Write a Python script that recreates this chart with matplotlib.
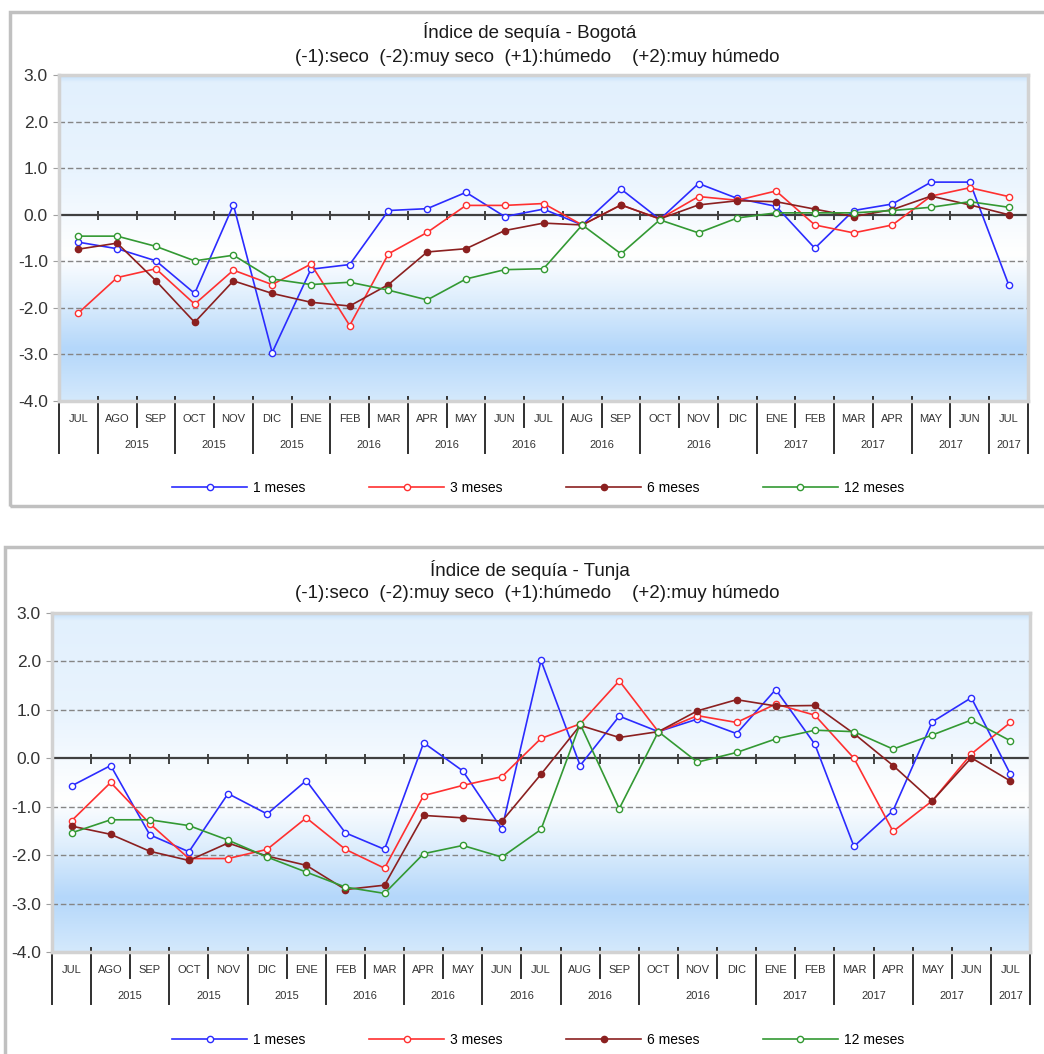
import numpy as np
import matplotlib
matplotlib.use("Agg")
import matplotlib.pyplot as plt
from matplotlib.colors import LinearSegmentedColormap
from matplotlib.patches import Rectangle
import matplotlib.transforms as mtransforms

plt.rcParams['font.family'] = ['Liberation Sans', 'DejaVu Sans']

months = ["JUL", "AGO", "SEP", "OCT", "NOV", "DIC", "ENE", "FEB", "MAR", "APR", "MAY", "JUN", "JUL",
          "AUG", "SEP", "OCT", "NOV", "DIC", "ENE", "FEB", "MAR", "APR", "MAY", "JUN", "JUL"]
year_labels = ["", "2015", "2015", "2015", "2016", "2016", "2016", "2016", "2016", "2017", "2017", "2017", "2017"]
year_spans = [1, 2, 2, 2, 2, 2, 2, 2, 3, 2, 2, 2, 1]

series_names = ["1 meses", "3 meses", "6 meses", "12 meses"]

# Bogota
bog_1 = [-0.59, -0.73, -0.99, -1.69, 0.21, -2.96, -1.17, -1.07, 0.09, 0.13, 0.48, -0.04, 0.12,
         -0.22, 0.55, -0.10, 0.67, 0.35, 0.18, -0.72, 0.09, 0.23, 0.70, 0.70, -1.50]
bog_3 = [-2.11, -1.35, -1.16, -1.92, -1.19, -1.50, -1.06, -2.38, -0.84, -0.38, 0.20, 0.20, 0.24,
         -0.22, 0.21, -0.09, 0.39, 0.31, 0.51, -0.22, -0.39, -0.22, 0.40, 0.58, 0.39]
bog_6 = [-0.74, -0.61, -1.42, -2.31, -1.42, -1.69, -1.88, -1.96, -1.50, -0.80, -0.73, -0.34, -0.18,
         -0.22, 0.21, -0.09, 0.21, 0.30, 0.28, 0.12, -0.04, 0.11, 0.40, 0.21, 0.00]
bog_12 = [-0.46, -0.46, -0.68, -0.99, -0.87, -1.38, -1.50, -1.45, -1.62, -1.83, -1.38, -1.18, -1.16,
          -0.22, -0.84, -0.11, -0.39, -0.07, 0.04, 0.04, 0.04, 0.09, 0.16, 0.28, 0.16]

# Tunja
tun_1 = [-0.57, -0.15, -1.58, -1.93, -0.73, -1.15, -0.46, -1.54, -1.88, 0.32, -0.26, -1.46, 2.02,
         -0.15, 0.87, 0.55, 0.81, 0.51, 1.42, 0.29, -1.82, -1.08, 0.75, 1.25, -0.33]
tun_3 = [-1.29, -0.50, -1.35, -2.07, -2.07, -1.88, -1.23, -1.88, -2.27, -0.77, -0.56, -0.38, 0.41,
         0.71, 1.60, 0.55, 0.88, 0.74, 1.12, 0.89, 0.00, -1.51, -0.88, 0.09, 0.74]
tun_6 = [-1.40, -1.57, -1.92, -2.11, -1.75, -2.02, -2.21, -2.71, -2.62, -1.18, -1.23, -1.30, -0.33,
         0.68, 0.43, 0.55, 0.98, 1.21, 1.08, 1.09, 0.51, -0.15, -0.88, 0.01, -0.47]
tun_12 = [-1.54, -1.27, -1.27, -1.39, -1.69, -2.04, -2.35, -2.66, -2.79, -1.97, -1.80, -2.04, -1.47,
          0.71, -1.04, 0.55, -0.08, 0.12, 0.40, 0.58, 0.55, 0.19, 0.48, 0.79, 0.36]

colors = ["#2b2bff", "#ff3030", "#8b2020", "#339933"]
faces = ["white", "white", "#8b2020", "white"]

W, H = 1044, 1054
fig = plt.figure(figsize=(W / 100, H / 100), dpi=100)

grad_cmap = LinearSegmentedColormap.from_list("bg", [
    (0.0, "#c4e0fa"), (0.02, "#e2f0fd"), (0.3, "#e9f4fe"), (0.55, "#ffffff"),
    (0.68, "#e0effd"), (0.84, "#b4d7fa"), (1.0, "#d4e9fc")])


def draw_chart(rect, data, box):
    # outer chart border
    fig.patches.append(Rectangle((box[0] / W, 1 - box[3] / H), (box[2] - box[0]) / W, (box[3] - box[1]) / H,
                                 transform=fig.transFigure, fill=False, ec="#c0c0c0", lw=2.5))
    left, top, right, bottom = rect
    ax = fig.add_axes([left / W, 1 - bottom / H, (right - left) / W, (bottom - top) / H])
    hpx = bottom - top
    n = len(months)
    x = np.arange(n) + 0.5

    ax.imshow(np.linspace(0, 1, 256).reshape(-1, 1), extent=[0, n, -4, 3], aspect="auto",
              cmap=grad_cmap, zorder=0, interpolation="bilinear")
    ax.hlines([-3, -2, -1, 1, 2], 0, n, colors="#858585", linestyles=(0, (4, 2)), lw=1, zorder=1)
    ax.axhline(0, color="#404040", lw=1.6, zorder=2)
    ax.vlines(np.arange(n + 1), -0.12, 0.09, color="#404040", lw=1.4, zorder=2)

    lines = []
    for vals, c, fc, name in zip(data, colors, faces, series_names):
        ln, = ax.plot(x, vals, color=c, lw=1.2, marker="o", ms=4.5, mfc=fc, mec=c, mew=1.0,
                      label=name, zorder=3)
        lines.append(ln)

    ax.set_xlim(0, n)
    ax.set_ylim(-4, 3)
    ax.set_xticks([])
    ax.set_yticks(np.arange(-4, 4))
    ax.set_yticklabels(["%.1f" % v for v in np.arange(-4, 4)])
    ax.tick_params(axis="y", length=4, color="#a0a0a0", labelsize=12.5, labelcolor="#333333", pad=4)
    for s in ax.spines.values():
        s.set_color("#d2d2d2")
        s.set_linewidth(2.5)

    # category table below the plot
    tr = mtransforms.blended_transform_factory(ax.transData, ax.transAxes)
    long_b = list(np.cumsum([0] + year_spans))
    for b in range(n + 1):
        end = 52 if b in long_b else 26
        ax.plot([b, b], [4 / hpx, -end / hpx], color="#303030", lw=1.4, transform=tr, clip_on=False)
    for i, m in enumerate(months):
        ax.text(i + 0.5, -18 / hpx, m, transform=tr, ha="center", va="center", fontsize=8,
                color="#333333")
    for lab, a, b in zip(year_labels, long_b[:-1], long_b[1:]):
        ax.text((a + b) / 2, -44 / hpx, lab, transform=tr, ha="center", va="center", fontsize=8,
                color="#333333")
    return ax, lines


def titles(y1, y2, place):
    fig.text(530 / W, 1 - y1 / H, "Índice de sequía - " + place, ha="center", va="center", fontsize=13.5,
             color="#1a1a1a")
    fig.text(537 / W, 1 - y2 / H, "(-1):seco  (-2):muy seco  (+1):húmedo    (+2):muy húmedo", ha="center",
             va="center", fontsize=13.5, color="#1a1a1a")


def legend(handles, y):
    fig.legend(handles=handles, loc="center", bbox_to_anchor=(538 / W, 1 - y / H), ncol=4, frameon=False,
               fontsize=10, handlelength=5.4, handletextpad=0.4, columnspacing=4.6, numpoints=1)


ax1, lines1 = draw_chart((59, 75, 1028, 401), [bog_1, bog_3, bog_6, bog_12], (10, 12, 1060, 506))
titles(32, 57, "Bogotá")
legend(lines1, 488)

ax2, lines2 = draw_chart((52, 613, 1030, 952), [tun_1, tun_3, tun_6, tun_12], (5, 547, 1060, 1080))
titles(570, 594, "Tunja")
legend(lines2, 1040)

fig.savefig("out.png", dpi=100)
